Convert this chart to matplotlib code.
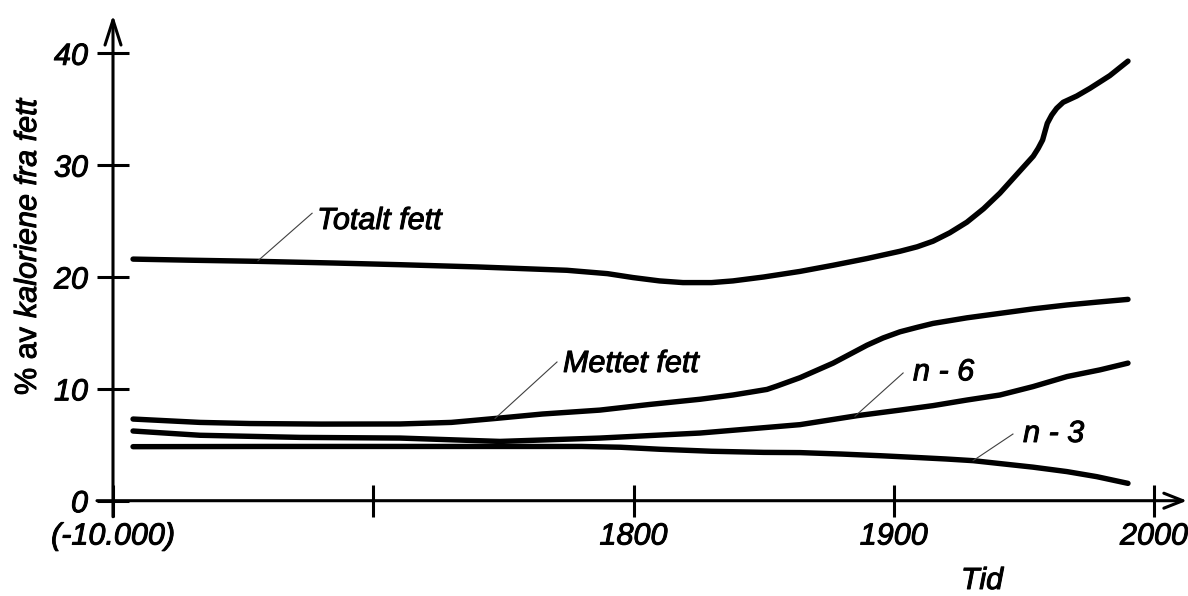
import matplotlib
matplotlib.use("Agg")
import matplotlib.pyplot as plt
import matplotlib.patheffects as pe
from matplotlib.text import Text

# ---------------------------------------------------------------------------
# Data: share of calories from fat over time.
# The time axis is an ordinal scale: position 0 = (-10.000), 2 = 1800,
# 3 = 1900, 4 = 2000 (the stretch before 1800 is compressed).
# ---------------------------------------------------------------------------
tick_pos = [0, 1, 2, 3, 4]
tick_labels = ["(-10.000)", "", "1800", "1900", "2000"]
y_ticks = [0, 10, 20, 30, 40]

totalt_x = [0.077, 0.30, 0.557, 0.85, 1.103, 1.40, 1.744, 1.90, 1.998, 2.10,
            2.19, 2.30, 2.382, 2.50, 2.64, 2.767, 2.897, 3.024, 3.09, 3.151,
            3.215, 3.281, 3.345, 3.408, 3.47, 3.536, 3.555, 3.572, 3.581, 3.590,
            3.607, 3.626, 3.651, 3.703, 3.754, 3.830, 3.900]
totalt_y = [21.6, 21.5, 21.4, 21.25, 21.1, 20.9, 20.6, 20.3, 19.95, 19.65,
            19.5, 19.5, 19.65, 20.0, 20.5, 21.05, 21.65, 22.3, 22.7, 23.2,
            23.95, 24.9, 26.1, 27.5, 29.1, 30.8, 31.5, 32.25, 33.0, 33.74,
            34.48, 35.08, 35.62, 36.18, 36.87, 38.0, 39.3]

mettet_x = [0.077, 0.334, 0.526, 0.80, 1.103, 1.30, 1.468, 1.65, 1.871, 2.06,
            2.256, 2.382, 2.448, 2.513, 2.551, 2.640, 2.767, 2.832, 2.897, 2.959,
            3.024, 3.09, 3.151, 3.281, 3.408, 3.535, 3.666, 3.78, 3.900]
mettet_y = [7.3, 7.0, 6.9, 6.85, 6.86, 7.0, 7.35, 7.75, 8.1, 8.6,
            9.07, 9.45, 9.7, 9.95, 10.25, 11.0, 12.3, 13.1, 13.9, 14.55,
            15.1, 15.5, 15.85, 16.35, 16.75, 17.15, 17.5, 17.75, 18.0]

n6_x = [0.077, 0.334, 0.719, 1.103, 1.295, 1.487, 1.871, 2.256, 2.640, 2.859,
        3.024, 3.151, 3.281, 3.408, 3.535, 3.666, 3.793, 3.900]
n6_y = [6.23, 5.85, 5.66, 5.6, 5.45, 5.3, 5.6, 6.05, 6.8, 7.6,
        8.1, 8.5, 9.0, 9.45, 10.2, 11.1, 11.7, 12.3]

n3_x = [0.077, 0.6, 1.2, 1.8, 1.95, 2.10, 2.30, 2.50, 2.64, 2.80,
        2.95, 3.10, 3.20, 3.305, 3.408, 3.535, 3.666, 3.78, 3.90]
n3_y = [4.83, 4.85, 4.85, 4.85, 4.78, 4.6, 4.42, 4.32, 4.3, 4.17,
        4.02, 3.85, 3.73, 3.58, 3.32, 3.0, 2.6, 2.15, 1.55]

series = [(totalt_x, totalt_y), (mettet_x, mettet_y), (n6_x, n6_y), (n3_x, n3_y)]

# Curve labels with their leader lines (text anchor, line start on curve, line end)
label_texts = ["Totalt fett", "Mettet fett", "n - 6", "n - 3"]
label_anchor = [(0.784, 24.29), (1.729, 11.51), (3.074, 10.76), (3.497, 5.25)]
leader_start = [(0.557, 21.45), (1.468, 7.35), (2.851, 7.55), (3.305, 3.58)]
leader_end = [(0.765, 25.70), (1.706, 12.40), (3.036, 11.42), (3.458, 5.96)]

# ---------------------------------------------------------------------------
W, H = 1188, 596
plt.rcParams["font.family"] = ["Liberation Sans", "DejaVu Sans"]
plt.rcParams["font.style"] = "italic"

fig = plt.figure(figsize=(W / 100, H / 100), dpi=100)
fig.patch.set_facecolor("white")
ax = fig.add_axes([113 / W, 1 - 500.7 / H, 1041 / W, 447.4 / H])
ax.set_xlim(0, 4)
ax.set_ylim(0, 40)
ax.patch.set_visible(False)
for s in ax.spines.values():
    s.set_visible(False)

ax.set_xticks(tick_pos, tick_labels)
ax.set_yticks(y_ticks)
ax.tick_params(direction="inout", length=23, width=2.2, color="black",
               labelsize=22, labelcolor="black")
ax.tick_params(axis="y", pad=6.5)
ax.tick_params(axis="x", pad=3.5)

# Axis lines with open arrow heads
ax.annotate("", xy=(0, 1.0856), xytext=(0, -0.0358), xycoords="axes fraction",
            annotation_clip=False,
            arrowprops=dict(arrowstyle="->,head_length=1.0,head_width=0.32",
                            lw=2.2, color="black", shrinkA=0, shrinkB=0,
                            mutation_scale=18))
ax.annotate("", xy=(1.0317, 0), xytext=(-0.0154, 0), xycoords="axes fraction",
            annotation_clip=False,
            arrowprops=dict(arrowstyle="->,head_length=0.76,head_width=0.3",
                            lw=2.2, color="black", shrinkA=0, shrinkB=0,
                            mutation_scale=18))

# Curves
for xs, ys in series:
    ax.plot(xs, ys, color="black", lw=3.9, solid_capstyle="round",
            solid_joinstyle="round", clip_on=False)

# Curve labels and leader lines
for txt, (tx, ty), (x0, y0), (x1, y1) in zip(label_texts, label_anchor,
                                            leader_start, leader_end):
    ax.plot([x0, x1], [y0, y1], color="0.25", lw=0.8)
    ax.text(tx, ty, txt, ha="left", va="baseline", fontsize=22, color="black")

# Y axis title: "% av" upright, the rest italic
t1 = fig.text(28 / W, 1 - 395 / H, "% av", rotation=90, ha="center",
              va="bottom", fontsize=22, style="normal")
fig.canvas.draw()
bb = t1.get_window_extent(fig.canvas.get_renderer())
fig.text(28 / W, (bb.y1 + 9) / H, "kaloriene fra fett", rotation=90,
         ha="center", va="bottom", fontsize=22, style="italic")

# X axis title
fig.text(982 / W, 1 - 589 / H, "Tid", ha="center", va="baseline", fontsize=22,
         style="italic")

# Slightly heavier glyph strokes for all text
heavy = [pe.withStroke(linewidth=0.7, foreground="black")]
for t in fig.findobj(Text):
    if t.get_text():
        t.set_path_effects(heavy)

fig.savefig("out.png", dpi=100)
